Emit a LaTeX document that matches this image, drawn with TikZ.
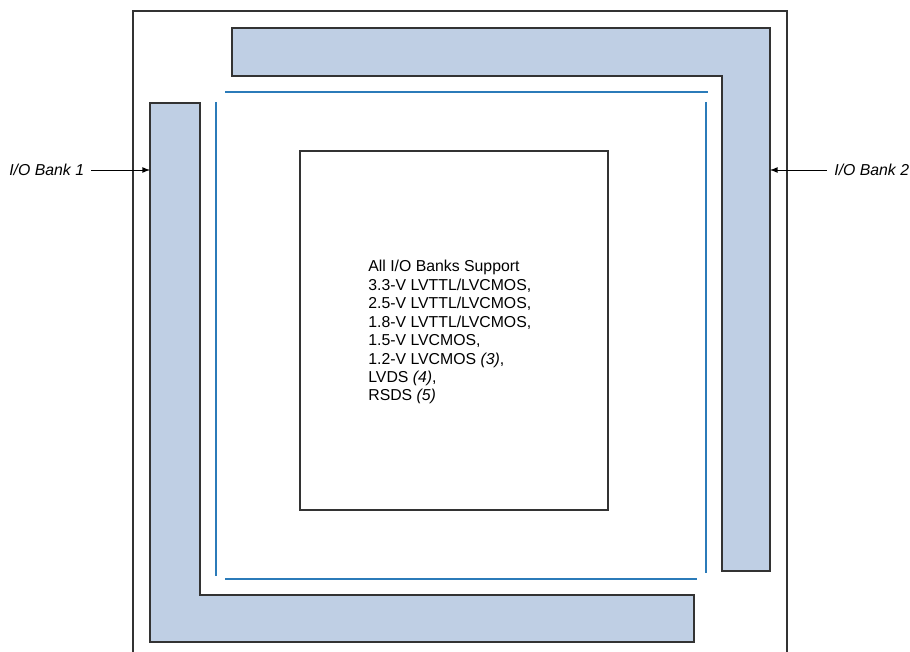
\documentclass[tikz,border=0pt]{standalone}
\usepackage{fontspec}
\setmainfont{Liberation Sans}
\usepackage{tikz}
\usepackage{xcolor}
\definecolor{bankfill}{HTML}{BFCFE4}
\definecolor{ringblue}{HTML}{2B7BB9}
\definecolor{edgegray}{HTML}{333333}

\begin{document}
\begin{tikzpicture}[x=0.02cm, y=-0.02cm, every node/.style={font=\fontsize{9}{10.5}\selectfont},
    bank/.style={draw=edgegray, line width=0.8pt, fill=bankfill},
    ring/.style={draw=ringblue, line width=0.7pt}]
    \useasboundingbox (0,0) rectangle (910,652);

    % device outline (open at the bottom)
    \draw[edgegray, line width=0.8pt] (133,652) -- (133,11) -- (787,11) -- (787,652);

    % I/O bank 2 (top and right)
    \draw[bank] (232,28) -- (770,28) -- (770,571) -- (722,571) -- (722,76) -- (232,76) -- cycle;

    % I/O bank 1 (left and bottom)
    \draw[bank] (150,103) -- (200,103) -- (200,595) -- (694,595) -- (694,642) -- (150,642) -- cycle;

    % I/O ring
    \draw[ring] (225,92) -- (708,92);
    \draw[ring] (216,102) -- (216,576);
    \draw[ring] (225,579) -- (697,579);
    \draw[ring] (706,102) -- (706,573);

    % core
    \draw[edgegray, line width=0.8pt] (300,151) rectangle (608,510);
    \node[anchor=north west, align=left, inner sep=0pt] (support) at (368,260)
        {All I/O Banks Support\\
         3.3-V LVTTL/LVCMOS,\\
         2.5-V LVTTL/LVCMOS,\\
         1.8-V LVTTL/LVCMOS,\\
         1.5-V LVCMOS,\\
         1.2-V LVCMOS \textit{(3)},\\
         LVDS \textit{(4)},\\
         RSDS \textit{(5)}};

    % bank labels
    \coordinate (bank1) at (150,170);
    \coordinate (bank2) at (770,170);
    \node[anchor=west, inner sep=0pt] (lbl1) at (9,170) {\textit{I/O Bank 1}};
    \node[anchor=west, inner sep=0pt] (lbl2) at (834,170) {\textit{I/O Bank 2}};
    \draw[-latex, line width=0.5pt] ([xshift=4pt]lbl1.east) -- (bank1);
    \draw[-latex, line width=0.5pt] ([xshift=-4pt]lbl2.west) -- (bank2);
\end{tikzpicture}
\end{document}
